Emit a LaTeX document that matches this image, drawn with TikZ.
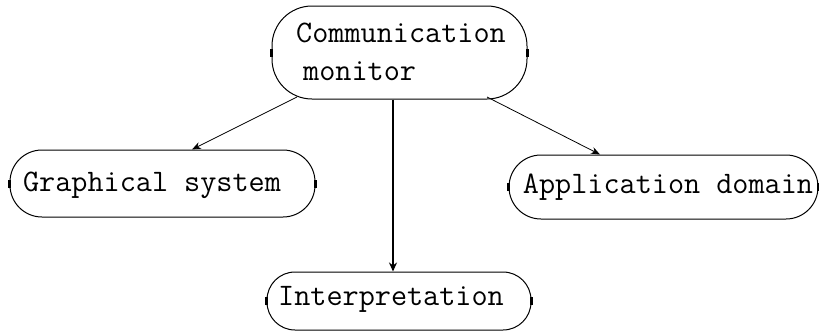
\documentclass[tikz,border=0pt]{standalone}
\usetikzlibrary{arrows.meta}
\begin{document}
\begin{tikzpicture}[x=1pt,y=-1pt,
  pill/.style={draw, line width=1pt, rounded corners=#1, inner sep=0pt},
  label/.style={font=\ttfamily\fontsize{31.3}{38}\selectfont, inner sep=0pt, align=left},
  tick/.style={line width=2.2pt},
  thin arrow/.style={line width=0.8pt, -{Stealth[length=9pt,width=7pt]}},
  thick arrow/.style={line width=2pt, -{Stealth[length=9pt,width=8pt]}}]
\useasboundingbox (0,0) rectangle (819,332);

% boxes
\node[pill=40pt, minimum width=255pt, minimum height=93pt] (cm) at (399.5,52.5) {};
\node[pill=32pt, minimum width=305pt, minimum height=67pt] (gs) at (162.5,183.5) {};
\node[pill=32pt, minimum width=309pt, minimum height=64pt] (ad) at (663.5,187) {};
\node[pill=28pt, minimum width=264pt, minimum height=58pt] (ip) at (399,301) {};

% texts
\node[label] (cmt) at (401,52) {Communication\\\hspace*{7pt}monitor};
\node[label] (gst) at (152,185) {Graphical system};
\node[label] (adt) at (668,187) {Application domain};
\node[label] (ipt) at (391,299) {Interpretation};

% side marks
\foreach \b in {cm,gs,ad,ip}{
  \draw[tick] ([yshift=-4pt]\b.west) -- ([yshift=4pt]\b.west);
  \draw[tick] ([yshift=-4pt]\b.east) -- ([yshift=4pt]\b.east);
}

% connectors
\coordinate (cmL) at (297,97);
\coordinate (cmR) at (487,97);
\draw[thin arrow] (cmL) -- (gs.north -| 192,0);
\draw[thick arrow] (cm.south -| 393,0) -- (ip.north -| 393,0);
\draw[thin arrow] (cmR) -- (ad.north -| 600,0);
\end{tikzpicture}
\end{document}
